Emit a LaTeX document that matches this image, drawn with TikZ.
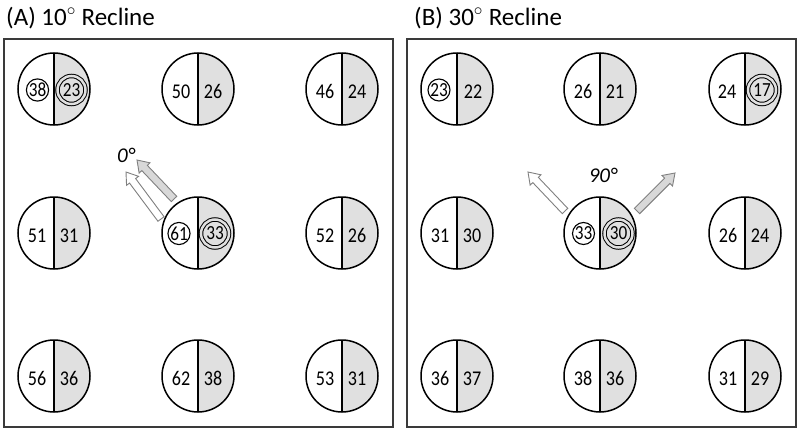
\documentclass[tikz,border=0pt]{standalone}
\usepackage{fontspec}
\setmainfont{Carlito}
\newfontfamily\numfont[FakeStretch=0.86]{Carlito}
\usetikzlibrary{calc}
\definecolor{halfgray}{HTML}{E0E0E0}
\definecolor{arrowgray}{HTML}{D8D8D8}
\definecolor{edgegray}{HTML}{808080}
\definecolor{boxgray}{HTML}{3A3A3A}
\tikzset{
  halfcirc/.style={circle, draw=black, line width=1.5pt, minimum size=72pt, inner sep=0pt,
    path picture={\fill[halfgray] (path picture bounding box.north) rectangle (path picture bounding box.south east);
      \draw[line width=1.5pt] (path picture bounding box.north) -- (path picture bounding box.south);}},
  num/.style={font=\numfont\fontsize{21}{25}\selectfont, inner sep=0pt},
  ring/.style={font=\numfont\fontsize{20}{24}\selectfont, inner sep=0pt, circle, draw=black, line width=1.1pt, minimum size=22pt},
  dring/.style={font=\numfont\fontsize{20}{24}\selectfont, inner sep=0pt, circle, draw=black, line width=1.0pt, double=halfgray, double distance=2.5pt, minimum size=28pt},
  panel/.style={draw=boxgray, line width=1.5pt, inner sep=0pt},
  title/.style={font=\fontsize{25}{30}\selectfont, inner sep=0pt, anchor=base west},
  anglelabel/.style={font=\fontsize{21}{25}\selectfont\itshape, inner sep=0pt},
  arrowline/.style={draw=edgegray, line width=0.9pt, line join=miter}
}
\newcommand{\seat}[4]{%
  \node[halfcirc] (#1) at (#2) {};
  \node[num] (#1l) at ($(#1)+(-17,2.5)$) {#3};
  \node[num] (#1r) at ($(#1)+(15,2.5)$) {#4};}
\newcommand{\blockarrow}[3]{%
  \coordinate (neck) at ($(#2)!11pt!(#1)$);
  \filldraw[arrowline, fill=#3] ($(#1)!3.8pt!90:(#2)$) -- ($(neck)!3.8pt!90:(#2)$) -- ($(neck)!7.5pt!90:(#2)$) -- (#2)
    -- ($(neck)!7.5pt!-90:(#2)$) -- ($(neck)!3.8pt!-90:(#2)$) -- ($(#1)!3.8pt!-90:(#2)$) -- cycle;}
\begin{document}
\begin{tikzpicture}[x=1pt, y=-1pt]
\useasboundingbox (0,0) rectangle (800,431);
% titles
\node[title] (tA) at (6,25) {(A) 10$^{\circ}$ Recline};
\node[title] (tB) at (414,25) {(B) 30$^{\circ}$ Recline};
% panels
\node[panel, minimum width=389pt, minimum height=388pt] (pA) at (198.5,233) {};
\node[panel, minimum width=389pt, minimum height=388pt] (pB) at (601.5,233) {};
% ---- panel A ----
\node[halfcirc] (a11) at (54,89) {};
\node[ring] (a11l) at ($(a11)+(-16.5,1)$) {38};
\node[dring] (a11r) at ($(a11)+(17.5,1)$) {23};
\seat{a12}{198,89}{50}{26}
\seat{a13}{342,89}{46}{24}
\seat{a21}{54,233}{51}{31}
\node[halfcirc] (a22) at (198,233) {};
\node[ring] (a22l) at ($(a22)+(-19,0.5)$) {61};
\node[dring] (a22r) at ($(a22)+(17,0.5)$) {33};
\seat{a23}{342,233}{52}{26}
\seat{a31}{54,376}{56}{36}
\seat{a32}{198,376}{62}{38}
\seat{a33}{342,376}{53}{31}
\coordinate (aWt) at (161,219);
\coordinate (aWh) at (126,172);
\coordinate (aGt) at (174,199);
\coordinate (aGh) at (137,160);
\blockarrow{aWt}{aWh}{white}
\blockarrow{aGt}{aGh}{arrowgray}
\node[anglelabel] (a0) at (126,155) {0°};
% ---- panel B ----
\node[halfcirc] (b11) at (457,89) {};
\node[ring] (b11l) at ($(b11)+(-18,1)$) {23};
\node[num] (b11r) at ($(b11)+(16,2.5)$) {22};
\seat{b12}{600,89}{26}{21}
\node[halfcirc] (b13) at (745,89) {};
\node[num] (b13l) at ($(b13)+(-18,2.5)$) {24};
\node[dring] (b13r) at ($(b13)+(17,1)$) {17};
\seat{b21}{457,233}{31}{30}
\node[halfcirc] (b22) at (600,233) {};
\node[ring] (b22l) at ($(b22)+(-16.5,0.5)$) {33};
\node[dring] (b22r) at ($(b22)+(18.5,0.5)$) {30};
\seat{b23}{745,233}{26}{24}
\seat{b31}{457,376}{36}{37}
\seat{b32}{600,376}{38}{36}
\seat{b33}{745,376}{31}{29}
\coordinate (bWt) at (565,211);
\coordinate (bWh) at (528,172);
\coordinate (bGt) at (637,211);
\coordinate (bGh) at (675,173);
\blockarrow{bWt}{bWh}{white}
\blockarrow{bGt}{bGh}{arrowgray}
\node[anglelabel] (b90) at (603,175) {90°};
\end{tikzpicture}
\end{document}
